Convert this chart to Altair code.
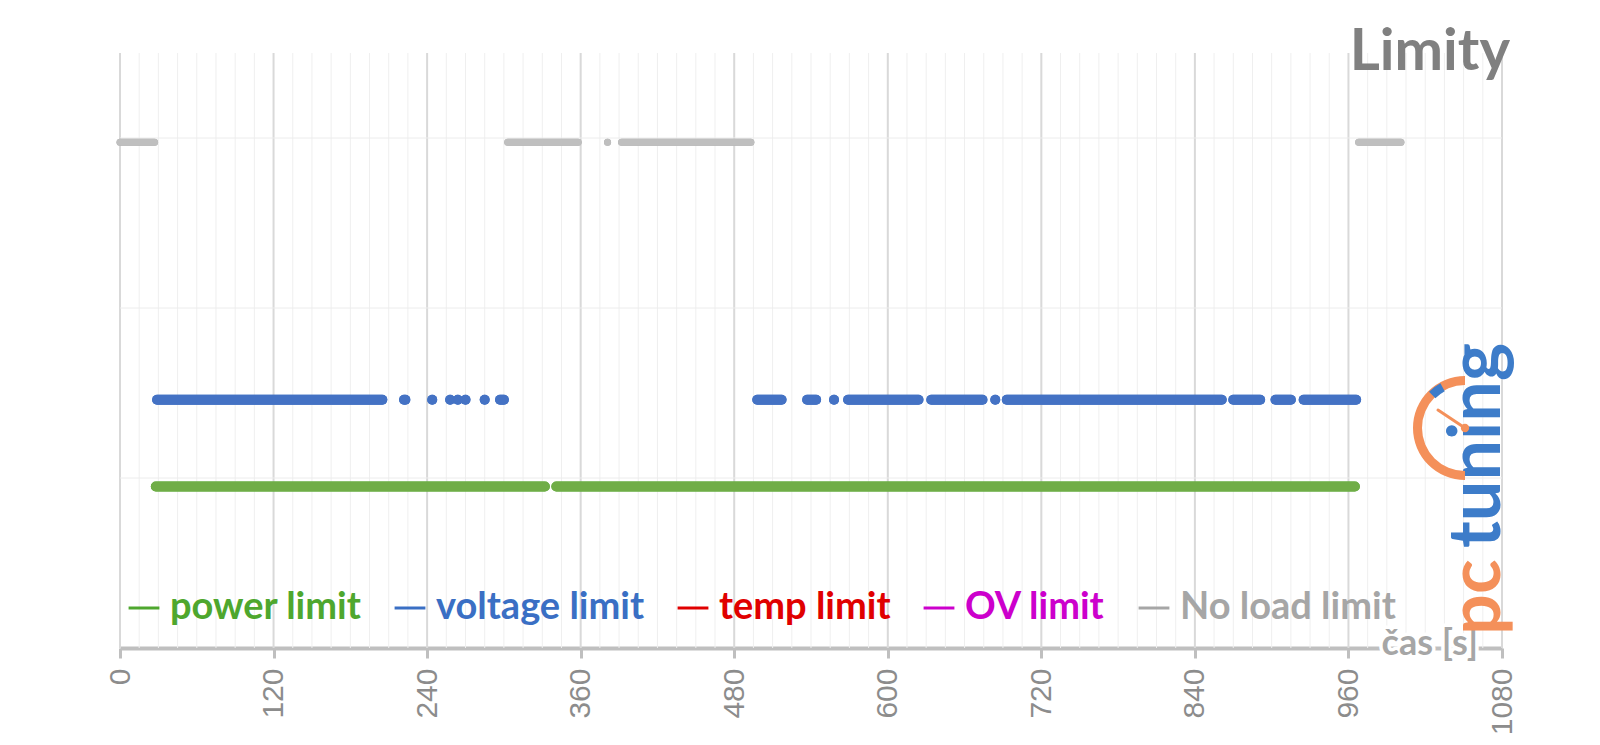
import math
import altair as alt
import pandas as pd

# ---- data (seconds) ----
series_names = ["power limit", "voltage limit", "temp limit", "OV limit", "No load limit"]
series_colors = ["#70ad47", "#4472c4", "#e00000", "#cc00cc", "#bfbfbf"]
legend_text_colors = ["#4ea72e", "#3a6fc4", "#e00000", "#cc00cc", "#a6a6a6"]

power_start = [28, 341]
power_end = [332, 965]
power_level = 0.95

voltage_start = [29, 222, 244, 258, 264, 270, 285, 297, 498, 537, 558, 569, 634, 684, 693, 870, 903, 925]
voltage_end = [205, 223, 244, 258, 264, 270, 285, 300, 517, 544, 558, 624, 674, 684, 861, 891, 915, 966]
voltage_level = 1.46

noload_start = [0, 303, 381, 392, 968]
noload_end = [27, 358, 381, 493, 1001]
noload_level = 2.975

x_ticks = [0, 120, 240, 360, 480, 600, 720, 840, 960, 1080]
minor_ticks = list(range(0, 1081, 15))
y_grid = [1, 2, 3]

# ---- tables ----
rows = []
for s, e in zip(power_start, power_end):
    rows.append({"series": "power limit", "start": s, "end": e, "level": power_level, "w": 10})
for s, e in zip(voltage_start, voltage_end):
    rows.append({"series": "voltage limit", "start": s, "end": e, "level": voltage_level, "w": 10})
for s, e in zip(noload_start, noload_end):
    rows.append({"series": "No load limit", "start": s, "end": e, "level": noload_level, "w": 7})
seg = pd.DataFrame(rows)

W, H = 1382, 595
xscale = alt.Scale(domain=[0, 1080], nice=False, zero=False)
yscale = alt.Scale(domain=[0, 3.5], nice=False)

xaxis = alt.Axis(
    values=x_ticks, grid=False, labelAngle=270, labelFontSize=30, labelFont="Liberation Sans",
    labelColor="#8c8c8c", labelPadding=10, tickSize=10, tickWidth=3, tickColor="#bfbfbf",
    domainColor="#bfbfbf", domainWidth=4, title=None, labelFlush=False, labelOverlap=False,
    format="d",
)

minor = alt.Chart(pd.DataFrame({"x": minor_ticks})).mark_rule(color="#efefef", strokeWidth=1).encode(
    x=alt.X("x:Q", scale=xscale, axis=xaxis)
)
major = alt.Chart(pd.DataFrame({"x": x_ticks})).mark_rule(color="#d9d9d9", strokeWidth=2).encode(
    x=alt.X("x:Q", scale=xscale, axis=xaxis)
)
hgrid = alt.Chart(pd.DataFrame({"y": y_grid})).mark_rule(color="#ececec", strokeWidth=1).encode(
    y=alt.Y("y:Q", scale=yscale, axis=None)
)

label_color_expr = " : ".join(
    f"datum.label == '{n}' ? '{c}'" for n, c in zip(series_names[:-1], legend_text_colors[:-1])
) + f" : '{legend_text_colors[-1]}'"

data_layer = alt.Chart(seg).mark_rule(strokeCap="round").encode(
    x=alt.X("start:Q", scale=xscale, axis=xaxis),
    x2="end:Q",
    y=alt.Y("level:Q", scale=yscale, axis=None),
    strokeWidth=alt.StrokeWidth("w:Q", scale=None, legend=None),
    color=alt.Color(
        "series:N",
        scale=alt.Scale(domain=series_names, range=legend_text_colors),
        sort=series_names,
        legend=alt.Legend(
            orient="none", legendX=5, legendY=536, direction="horizontal", title=None,
            symbolType="stroke", symbolStrokeWidth=3, symbolSize=950,
            labelFont="Lato", labelFontWeight="bold", labelFontSize=38, labelOffset=7,
            columnPadding=26, labelLimit=400,
            labelColor=alt.ExprRef(label_color_expr),
        ),
    ),
)

# data marks drawn again in the chart colours (the legend keeps the label colours)
data_colored = alt.Chart(seg).mark_rule(strokeCap="round").encode(
    x=alt.X("start:Q", scale=xscale, axis=xaxis),
    x2="end:Q",
    y=alt.Y("level:Q", scale=yscale, axis=None),
    strokeWidth=alt.StrokeWidth("w:Q", scale=None, legend=None),
    stroke=alt.Stroke("series:N", scale=alt.Scale(domain=series_names, range=series_colors), legend=None),
)

title_txt = alt.Chart(pd.DataFrame({"t": ["Limity"]})).mark_text(
    font="Lato", fontWeight="bold", fontSize=58, color="#808080", align="right", baseline="alphabetic"
).encode(text="t:N", x=alt.value(1390), y=alt.value(17))

xtitle_df = pd.DataFrame({"t": ["čas [s]"]})
xtitle_halo = alt.Chart(xtitle_df).mark_text(
    font="Lato", fontWeight="bold", fontSize=36, color="white", stroke="white", strokeWidth=7,
    align="right", baseline="alphabetic"
).encode(text="t:N", x=alt.value(1358), y=alt.value(602))
xtitle_txt = alt.Chart(xtitle_df).mark_text(
    font="Lato", fontWeight="bold", fontSize=36, color="#a6a6a6", align="right", baseline="alphabetic"
).encode(text="t:N", x=alt.value(1358), y=alt.value(602))

logo_pc = alt.Chart(pd.DataFrame({"t": ["pc"]})).mark_text(
    font="Lato", fontWeight="bold", fontSize=72, color="#f4905a", align="left", baseline="alphabetic", angle=270
).encode(text="t:N", x=alt.value(1380), y=alt.value(582))
logo_tuning = alt.Chart(pd.DataFrame({"t": ["tuning"]})).mark_text(
    font="Lato", fontWeight="bold", fontSize=72, color="#3d7cc9", align="right", baseline="alphabetic", angle=270
).encode(text="t:N", x=alt.value(1380), y=alt.value(290))

one = pd.DataFrame({"k": [1]})
gauge = alt.Chart(one).mark_arc(
    theta=math.pi, theta2=2 * math.pi, innerRadius=43, outerRadius=52, color="#f4905a"
).encode(x=alt.value(1345), y=alt.value(375))
gauge_notch = alt.Chart(one).mark_arc(
    theta=5.5, theta2=5.78, innerRadius=42, outerRadius=51, color="#3d7cc9"
).encode(x=alt.value(1345), y=alt.value(375))
needle = alt.Chart(one).mark_rule(color="#f4905a", strokeWidth=3, strokeCap="round").encode(
    x=alt.value(1345), x2=alt.value(1318), y=alt.value(375), y2=alt.value(357)
)
hub = alt.Chart(one).mark_point(filled=True, color="#f4905a", size=70, opacity=1).encode(
    x=alt.value(1345), y=alt.value(375)
)

chart = alt.layer(
    minor, major, hgrid, data_layer, data_colored, title_txt, xtitle_halo, xtitle_txt,
    logo_pc, logo_tuning, gauge, gauge_notch, needle, hub
).properties(
    width=W, height=H,
    autosize=alt.AutoSizeParams(type="none"),
    padding={"left": 120, "top": 53, "right": 98, "bottom": 97},
).configure_view(stroke=None)

chart.save("out.html", embed_options={"renderer": "svg", "actions": False})
